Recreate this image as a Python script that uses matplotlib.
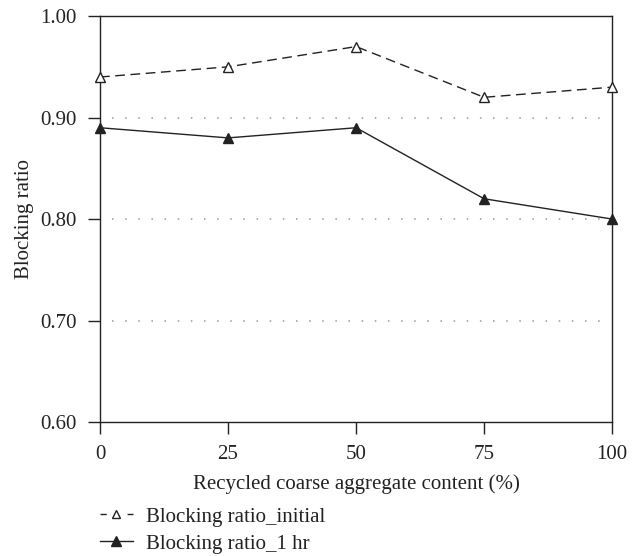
import numpy as np
import matplotlib.pyplot as plt
from matplotlib.lines import Line2D

# recycled coarse aggregate content (%) and blocking ratios
content = [0, 25, 50, 75, 100]
ratio_initial = [0.94, 0.95, 0.97, 0.92, 0.93]
ratio_1hr = [0.89, 0.88, 0.89, 0.82, 0.80]
y_ticks = [0.60, 0.70, 0.80, 0.90, 1.00]
labels = ['Blocking ratio_initial', 'Blocking ratio_1 hr']

plt.rcParams['font.family'] = ['Liberation Serif', 'DejaVu Serif']
plt.rcParams['font.size'] = 15

ink = '#222222'

fig = plt.figure(figsize=(6.39, 5.56), dpi=100)
ax = fig.add_axes([0.1565, 0.241, 0.8015, 0.730])

# dotted reference lines
for y in [0.70, 0.80, 0.90]:
    ax.axhline(y, xmin=0.023, xmax=0.99, color='#999999', lw=1.1,
               ls=(0, (1, 7.6)), zorder=1)

ax.plot(content, ratio_initial, color=ink, lw=1.0, ls=(0, (7, 4)),
        marker='^', markersize=7.5, markerfacecolor='white',
        markeredgecolor=ink, markeredgewidth=1.0, zorder=3, clip_on=False)
ax.plot(content, ratio_1hr, color=ink, lw=1.0,
        marker='^', markersize=7.5, markerfacecolor=ink,
        markeredgecolor=ink, zorder=3, clip_on=False)

ax.set_xlim(0, 100)
ax.set_ylim(0.60, 1.00)
ax.set_xticks(content)
ax.set_yticks(y_ticks)
ax.set_yticklabels([f"{v:.2f}" for v in y_ticks])
ax.tick_params(direction='out', length=8.6, width=1.0, pad=8, colors=ink)
for s in ax.spines.values():
    s.set_linewidth(1.0)
    s.set_color(ink)

ax.set_xlabel('Recycled coarse aggregate content (%)', labelpad=7, color=ink)
ax.set_ylabel('Blocking ratio', labelpad=5, color=ink)

# legend handles: short dashes either side of the marker
handles = [
    Line2D([], [], color=ink, lw=1.0, ls=(0, (4.5, 15)), marker='^',
           markersize=6, markerfacecolor='white', markeredgecolor=ink),
    Line2D([], [], color=ink, lw=1.0, marker='^', markersize=7,
           markerfacecolor=ink, markeredgecolor=ink),
]
fig.legend(handles, labels, loc='upper left', bbox_to_anchor=(0.156, 0.088),
           frameon=False, handlelength=1.6, handletextpad=0.6,
           labelspacing=0.35, borderaxespad=0, borderpad=0, labelcolor=ink)

fig.savefig('out.png', dpi=100)
